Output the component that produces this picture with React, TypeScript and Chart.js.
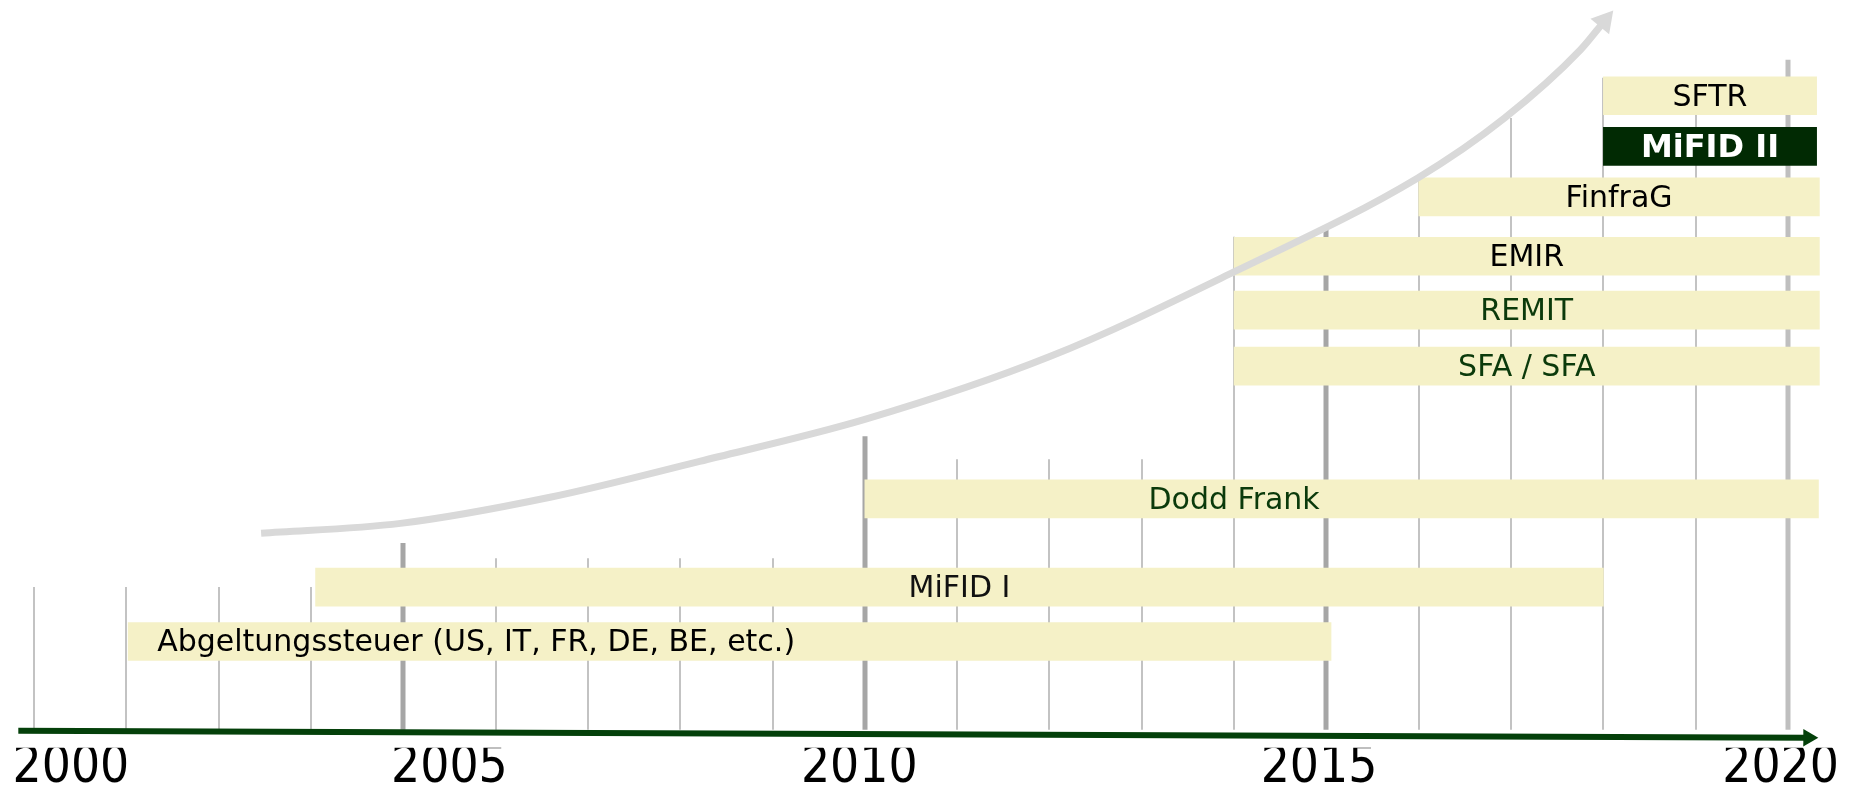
import React, { useEffect, useRef } from "react";
import { Chart, registerables } from "chart.js";

Chart.register(...registerables);

// ---- data ----
const barLabels = [
  "SFTR",
  "MiFID II",
  "FinfraG",
  "EMIR",
  "REMIT",
  "SFA / SFA",
  "Dodd Frank",
  "MiFID I",
  "Abgeltungssteuer (US, IT, FR, DE, BE, etc.)",
];
const barStartYears = [2018.0, 2018.0, 2016.0, 2014.0, 2014.0, 2014.0, 2010.0, 2004.05, 2002.02];
const barEndYears = [2020.31, 2020.31, 2020.34, 2020.34, 2020.34, 2020.34, 2020.33, 2018.0, 2015.05];
const barLevels = [11.03, 10.1, 9.17, 8.08, 7.09, 6.06, 3.62, 2.0, 1.0];
const labelAnchorYears: (number | null)[] = [null, null, null, null, null, null, 2014.0, null, null];
const labelAlignStart = [false, false, false, false, false, false, false, false, true];
const highlightedBar = "MiFID II";

const gridYears = [
  2001, 2002, 2003, 2004, 2005, 2006, 2007, 2008, 2009, 2010,
  2011, 2012, 2013, 2014, 2015, 2016, 2017, 2018, 2019, 2020,
];
const gridTopLevels = [
  2.0, 2.0, 2.0, 2.0, 2.81, 2.53, 2.53, 2.53, 2.53, 4.77,
  4.35, 4.35, 4.35, 8.44, 8.62, 9.5, 10.62, 11.36, 11.1, 11.69,
];
const gridBaseLevel = -0.62;

const tickYears = [2001.4, 2005.5, 2009.94, 2014.92, 2019.92];
const tickLabels = ["2000", "2005", "2010", "2015", "2020"];

const curveYears = [2003.46, 2004.97, 2006.59, 2008.21, 2010.0, 2012.01, 2014.01, 2015.99, 2016.93, 2017.75, 2018.01];
const curveLevels = [2.99, 3.17, 3.65, 4.31, 5.08, 6.24, 7.8, 9.52, 10.62, 11.87, 12.4];

const axisYears = [2000.83, 2020.22];
const axisLevels = [-0.64, -0.77];

// ---- styles ----
const CREAM = "#f5f1c7";
const DARK_GREEN = "#012a03";
const TEXT_GREEN = "#0b3a0b";
const labelColors: Record<string, string> = {
  SFTR: "#000000",
  "MiFID II": "#ffffff",
  FinfraG: "#000000",
  EMIR: "#000000",
  REMIT: TEXT_GREEN,
  "SFA / SFA": TEXT_GREEN,
  "Dodd Frank": TEXT_GREEN,
  "MiFID I": "#111111",
};

const arrowRotation = (ctx: any) => {
  const i = ctx.dataIndex;
  const data = ctx.dataset.data;
  if (i === 0) return 0;
  const xs = ctx.chart.scales.x;
  const ys = ctx.chart.scales.y;
  const p0 = data[i - 1];
  const p1 = data[i];
  const dx = xs.getPixelForValue(p1.x) - xs.getPixelForValue(p0.x);
  const dy = ys.getPixelForValue(p1.y) - ys.getPixelForValue(p0.y);
  return (Math.atan2(dx, -dy) * 180) / Math.PI;
};

const overlayPlugin = {
  id: "timelineOverlay",
  beforeDatasetsDraw(chart: any) {
    const { ctx } = chart;
    const x = chart.scales.x;
    const y = chart.scales.y;
    ctx.save();
    gridYears.forEach((yr, i) => {
      const major = yr % 5 === 0;
      ctx.strokeStyle = yr === 2020 ? "#bfbfbf" : major ? "#a6a6a6" : "#c3c3c3";
      ctx.lineWidth = major ? 5 : 2;
      const px = Math.round(x.getPixelForValue(yr));
      ctx.beginPath();
      ctx.moveTo(px, y.getPixelForValue(gridTopLevels[i]));
      ctx.lineTo(px, y.getPixelForValue(gridBaseLevel));
      ctx.stroke();
    });
    ctx.restore();
  },
  afterDatasetDraw(chart: any, args: any) {
    if (args.index !== 0) return;
    const { ctx } = chart;
    const x = chart.scales.x;
    const meta = chart.getDatasetMeta(0);
    ctx.save();
    ctx.textBaseline = "middle";
    meta.data.forEach((el: any, i: number) => {
      const p = el.getProps(["x", "y", "base"], true);
      const label = barLabels[i];
      const bold = label === highlightedBar;
      ctx.font = bold ? "bold 32px 'DejaVu Sans', Verdana, sans-serif" : "30px 'DejaVu Sans', Verdana, sans-serif";
      ctx.fillStyle = labelColors[label] || "#000000";
      const left = Math.min(p.x, p.base);
      const right = Math.max(p.x, p.base);
      let tx: number;
      if (labelAlignStart[i]) {
        ctx.textAlign = "left";
        tx = left + 29;
      } else if (labelAnchorYears[i] !== null) {
        ctx.textAlign = "center";
        tx = x.getPixelForValue(labelAnchorYears[i] as number);
      } else {
        ctx.textAlign = "center";
        tx = (left + right) / 2;
      }
      ctx.fillText(label, tx, p.y + 2);
    });
    ctx.restore();
  },
};

export default function App() {
  const canvasRef = useRef<HTMLCanvasElement | null>(null);

  useEffect(() => {
    document.body.style.margin = "0";
    const canvas = canvasRef.current;
    if (!canvas) return;

    const barData = barLabels.map((_, i) => ({
      x: [barStartYears[i], barEndYears[i]],
      y: barLevels[i],
    }));
    const curveData = curveYears.map((v, i) => ({ x: v, y: curveLevels[i] }));
    const axisData = axisYears.map((v, i) => ({ x: v, y: axisLevels[i] }));

    const chart = new Chart(canvas, {
      type: "bar",
      data: {
        datasets: [
          {
            type: "bar",
            indexAxis: "y",
            label: "Regulierungen",
            data: barData as any,
            backgroundColor: barLabels.map((l) => (l === highlightedBar ? DARK_GREEN : CREAM)),
            borderWidth: 0,
            barThickness: 38,
            order: 1,
          } as any,
          {
            type: "line",
            label: "Trend",
            data: curveData as any,
            borderColor: "#d9d9d9",
            backgroundColor: "#d9d9d9",
            borderWidth: 7,
            borderCapStyle: "butt",
            cubicInterpolationMode: "monotone",
            fill: false,
            pointStyle: "triangle",
            pointRadius: (ctx: any) => (ctx.dataIndex === curveYears.length - 1 ? 14 : 0),
            pointRotation: arrowRotation,
            pointBorderWidth: 0,
            pointBackgroundColor: "#d9d9d9",
            order: 0,
          } as any,
          {
            type: "line",
            label: "Zeitachse",
            data: axisData as any,
            borderColor: "#04400a",
            backgroundColor: "#04400a",
            borderWidth: 6,
            borderCapStyle: "butt",
            fill: false,
            pointStyle: "triangle",
            pointRadius: (ctx: any) => (ctx.dataIndex === axisYears.length - 1 ? 10 : 0),
            pointRotation: arrowRotation,
            pointBorderWidth: 0,
            pointBackgroundColor: "#04400a",
            order: 0,
          } as any,
        ],
      },
      options: {
        responsive: false,
        maintainAspectRatio: false,
        animation: false,
        devicePixelRatio: 1,
        events: [],
        layout: { padding: 0, autoPadding: false },
        plugins: {
          legend: { display: false },
          tooltip: { enabled: false },
          title: { display: false },
        },
        scales: {
          x: {
            type: "linear",
            min: 2000.6317,
            max: 2020.7366,
            offset: false,
            bounds: "data",
            afterBuildTicks: (scale: any) => {
              scale.ticks = tickYears.map((v) => ({ value: v }));
            },
            ticks: {
              autoSkip: false,
              maxRotation: 0,
              padding: -10,
              color: "#000000",
              font: { family: "'DejaVu Sans Condensed', 'DejaVu Sans', sans-serif", size: 51 },
              callback: (_v: any, i: number) => tickLabels[i],
            },
            grid: { display: false, drawTicks: false, offset: false },
            border: { display: false },
          },
          y: {
            type: "linear",
            display: false,
            min: -0.954,
            max: 12.789,
            offset: false,
            grid: { display: false, offset: false },
          },
        },
      } as any,
      plugins: [overlayPlugin],
    });

    return () => chart.destroy();
  }, []);

  return (
    <div style={{ position: "fixed", left: 0, top: 0, width: 1856, height: 789, background: "#ffffff" }}>
      <canvas ref={canvasRef} width={1856} height={789} style={{ display: "block" }} />
    </div>
  );
}
